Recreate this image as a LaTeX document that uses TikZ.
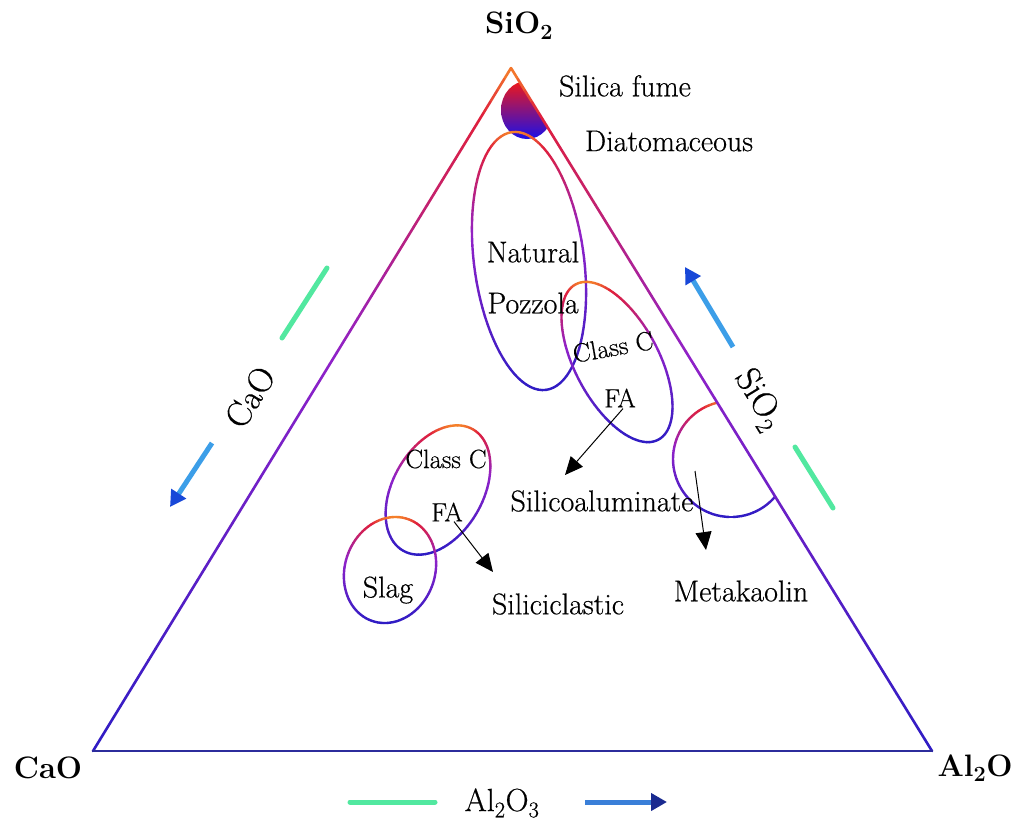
\documentclass[tikz,border=0pt]{standalone}
\usepackage{fontspec}
\usetikzlibrary{arrows.meta,calc}
\newfontfamily\lblfont{Latin Modern Roman}[FakeBold=0.5]

% gradient stops: orange -> red -> purple -> blue
\definecolor{gA}{HTML}{F5802A}
\definecolor{gB}{HTML}{E0203C}
\definecolor{gC}{HTML}{9022C8}
\definecolor{gD}{HTML}{2E1CC4}
\definecolor{edgeblue}{HTML}{2C2C9C}
\definecolor{mint}{HTML}{52E8A0}
\definecolor{skyblue}{HTML}{3C9EE8}
\definecolor{deepblue}{HTML}{1848D8}
\definecolor{lightnavy}{HTML}{3A7FD8}
\definecolor{navy}{HTML}{1A2A90}
\definecolor{blobtop}{HTML}{F01818}
\definecolor{blobmid}{HTML}{8C22D0}
\definecolor{blobbot}{HTML}{1A10E8}

% set colour gc from a fraction #1 in [0,1]; #2, #3 are the red and purple stops
\newcommand\setgrad[3]{%
  \pgfmathsetmacro\gf{max(0,min(1,#1))}%
  \ifdim\gf pt<#2pt
    \pgfmathtruncatemacro\gp{100*\gf/#2}\colorlet{gc}{gB!\gp!gA}%
  \else\ifdim\gf pt<#3pt
    \pgfmathtruncatemacro\gp{100*(\gf-#2)/(#3-#2)}\colorlet{gc}{gC!\gp!gB}%
  \else
    \pgfmathtruncatemacro\gp{100*(\gf-#3)/(1-#3)}\colorlet{gc}{gD!\gp!gC}%
  \fi\fi}

% tilted ellipse with a vertical colour gradient on its outline
% #1,#2 centre; #3,#4 semi-axes; #5 tilt (y pointing down)
\newcommand\gradellipse[5]{%
  \pgfmathsetmacro\eh{veclen(#3*sin(#5),#4*cos(#5))}%
  \foreach \ang in {0,4,...,356}{%
    \pgfmathsetmacro\xa{#1+#3*cos(\ang)*cos(#5)-#4*sin(\ang)*sin(#5)}%
    \pgfmathsetmacro\ya{#2+#3*cos(\ang)*sin(#5)+#4*sin(\ang)*cos(#5)}%
    \pgfmathsetmacro\xb{#1+#3*cos(\ang+4)*cos(#5)-#4*sin(\ang+4)*sin(#5)}%
    \pgfmathsetmacro\yb{#2+#3*cos(\ang+4)*sin(#5)+#4*sin(\ang+4)*cos(#5)}%
    \setgrad{((\ya+\yb)/2-#2+\eh)/(2*\eh)}{0.06}{0.4}%
    \draw[ringline,gc] (\xa,\ya) -- (\xb,\yb);
  }}

\tikzset{
  ringline/.style={line width=2.4, line cap=round},
  edgeline/.style={line width=2.6, line cap=round},
  lbl/.style={font=\lblfont\fontsize{30}{34}\selectfont, inner sep=0pt},
  smalllbl/.style={font=\lblfont\fontsize{26.5}{30}\selectfont, inner sep=0pt},
  cornerlbl/.style={font=\fontsize{31}{35}\selectfont\bfseries, inner sep=0pt},
  axislbl/.style={font=\lblfont\fontsize{35}{40}\selectfont, inner sep=0pt},
  blkarrow/.style={line width=1, black, -{Triangle[length=18pt,width=16pt]}},
  greenbar/.style={line width=5, mint, line cap=round},
  bluearrow/.style={line width=5, skyblue, -{Triangle[length=16pt,width=17pt,color=deepblue]}},
  navyarrow/.style={line width=5, lightnavy, -{Triangle[length=16pt,width=17pt,color=navy]}},
}

\begin{document}
\begin{tikzpicture}[x=1pt,y=-1pt]
\fill[white] (0,0) rectangle (1014,823);
\useasboundingbox (0,0) rectangle (1014,823);

% corners of the ternary diagram
\coordinate (apex) at (511,68);
\coordinate (bl) at (93,751);
\coordinate (br) at (932,751);

% regions cut by the triangle
\begin{scope}
  \clip (apex) -- (bl) -- (br) -- cycle;
  % silica fume / diatomaceous blob
  \shade[top color=blobtop, middle color=blobmid, bottom color=blobbot]
    (527,110) ellipse [x radius=26, y radius=29];
  % metakaolin field
  \gradellipse{731}{459}{58}{58}{0}
\end{scope}

% sides of the triangle
\foreach \i in {0,...,59}{%
  \pgfmathsetmacro\fa{\i/60}%
  \pgfmathsetmacro\fb{(\i+1)/60}%
  \setgrad{(\i+0.5)/60}{0.07}{0.42}%
  \draw[edgeline,gc] ($(apex)!\fa!(bl)$) -- ($(apex)!\fb!(bl)$);
  \draw[edgeline,gc] ($(apex)!\fa!(br)$) -- ($(apex)!\fb!(br)$);
}
\draw[edgeline,edgeblue] (bl) -- (br);

% material fields
\gradellipse{529}{261}{130}{55}{82.5} % natural pozzolan
\gradellipse{617}{362}{88}{42}{62}    % class C fly ash (upper)
\gradellipse{438}{490}{70}{45}{-60}   % class C fly ash (lower)
\gradellipse{390}{570}{54}{45}{-70}   % slag

% corner labels
\node[cornerlbl] (topSi) at (519,26) {SiO\textsubscript{2}};
\node[cornerlbl] (cornerCa) at (48,768) {CaO};
\node[cornerlbl] (cornerAl) at (975,768) {Al\textsubscript{2}O};

% field labels
\node[lbl] (silica) at (625,86) {Silica fume};
\node[lbl] (diato) at (669,141) {Diatomaceous};
\node[lbl] (natural) at (533,252) {Natural};
\node[lbl] (pozz) at (533,303) {Pozzola};
\node[smalllbl, rotate=10] (classU) at (613,347) {Class C};
\node[smalllbl] (faU) at (620,398) {FA};
\node[lbl] (sialum) at (602,501) {Silicoaluminate};
\node[smalllbl] (classL) at (446,459) {Class C};
\node[smalllbl] (faL) at (447,512) {FA};
\node[lbl] (slag) at (388,590) {Slag};
\node[lbl] (silicl) at (558,604) {Siliciclastic};
\node[lbl] (metak) at (741,591) {Metakaolin};

% trend arrows
\coordinate (tipU) at (565,475);
\coordinate (tipL) at (493,572);
\coordinate (mkStart) at (695,471);
\coordinate (mkTip) at (706,550);
\draw[blkarrow] ($(faU.south)+(3,1)$) -- (tipU);
\draw[blkarrow] ($(faL.south)+(7,0)$) -- (tipL);
\draw[blkarrow] (mkStart) -- (mkTip);

% axis directions
\node[axislbl, rotate=58.5] (axCa) at (250,397) {CaO};
\node[axislbl, rotate=-58.5] (axSi) at (758,400) {SiO\textsubscript{2}};
\node[font=\lblfont\fontsize{32}{36}\selectfont, inner sep=0pt] (axAl) at (502,803) {Al\textsubscript{2}O\textsubscript{3}};

\coordinate (gL1) at (282,338); \coordinate (gL2) at (327,268);
\coordinate (gR1) at (795,447); \coordinate (gR2) at (833,508);
\coordinate (gB1) at (350,802); \coordinate (gB2) at (435,802);
\draw[greenbar] (gL1) -- (gL2);
\draw[greenbar] (gR1) -- (gR2);
\draw[greenbar] (gB1) -- (gB2);

\coordinate (bL1) at (212,443); \coordinate (bL2) at (170,507);
\coordinate (bR1) at (733,347); \coordinate (bR2) at (685,267);
\coordinate (bB1) at (585,802); \coordinate (bB2) at (667,802);
\draw[bluearrow] (bL1) -- (bL2);
\draw[bluearrow] (bR1) -- (bR2);
\draw[navyarrow] (bB1) -- (bB2);
\end{tikzpicture}
\end{document}
